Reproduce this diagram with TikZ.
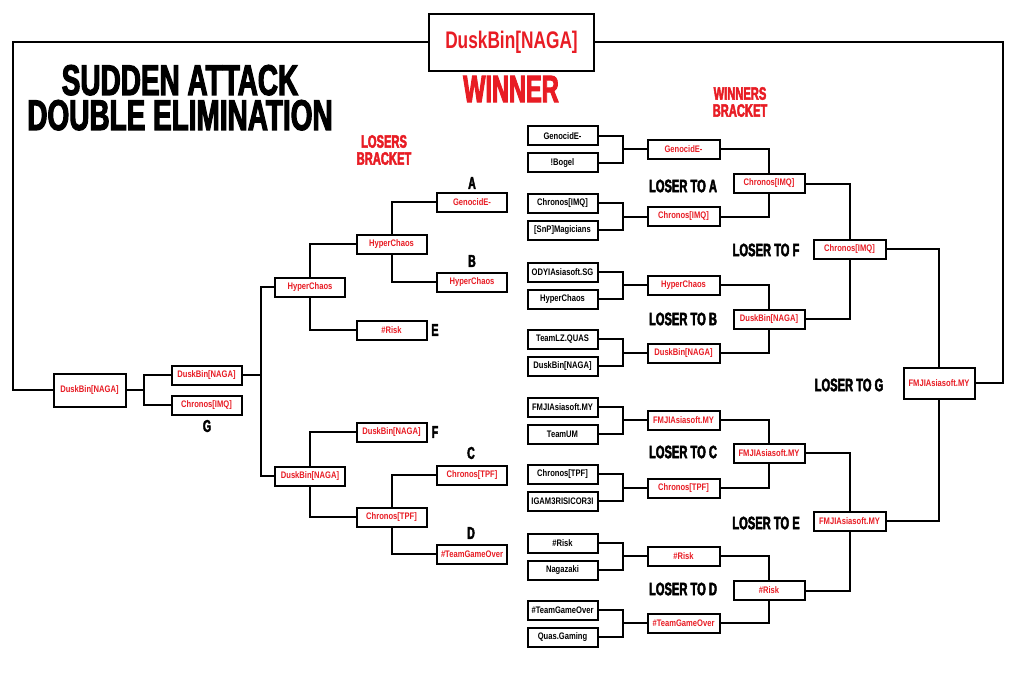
\documentclass[tikz,border=0pt]{standalone}
\usepackage{fontspec}
\newfontfamily\cnd{Liberation Sans}[FakeStretch=0.8]
\newfontfamily\cndb{Liberation Sans}[FakeStretch=0.72]
\newfontfamily\ttl{Liberation Sans}[FakeStretch=0.62,FakeBold=2.5]
\newfontfamily\ttlw{Liberation Sans}[FakeStretch=0.65,FakeBold=2.5]
\definecolor{bred}{RGB}{232,28,36}
\tikzset{
  bx/.style={draw, line width=2pt, fill=white, minimum width=70pt, minimum height=19pt, inner sep=0pt,
    font=\cnd\bfseries\fontsize{9.5pt}{11pt}\selectfont},
  seed/.style={bx, text=black},
  win/.style={bx, text=bred},
  conn/.style={line width=2pt},
  ttlf/.style={font=\ttl\bfseries\fontsize{#1}{#1}\selectfont, inner sep=0pt},
  bigt/.style={font=\ttlw\bfseries\fontsize{43pt}{43pt}\selectfont, inner sep=0pt, anchor=base, text height=31pt, text depth=0pt},
  lbl/.style={ttlf=18pt, text=black},
  letter/.style={ttlf=17pt, text=black},
}
\begin{document}
\begin{tikzpicture}[x=1pt,y=-1pt]
\useasboundingbox (0,0) rectangle (1023,682);
\fill[white] (0,0) rectangle (1023,682);

% top winner
\node[draw, line width=2pt, fill=white, minimum width=165pt, minimum height=57pt, inner sep=0pt,
  text=bred, font=\cndb\bfseries\fontsize{24pt}{26pt}\selectfont] (top) at (511.5,42.5) {DuskBin[NAGA]};
\node[ttlf=38pt, text=bred] (winner) at (511,89) {WINNER};
\node[bigt] (title1) at (180,95) {SUDDEN ATTACK};
\node[bigt] (title2) at (180,130) {DOUBLE ELIMINATION};
\node[ttlf=18pt, text=bred, align=center, font=\ttl\bfseries\fontsize{18pt}{17pt}\selectfont] (wbr) at (740,102) {WINNERS\\BRACKET};
\node[ttlf=18pt, text=bred, align=center, font=\ttl\bfseries\fontsize{18pt}{17pt}\selectfont] (lbr) at (384,150) {LOSERS\\BRACKET};

% winners round 1
\node[seed] (s1) at (562.5,136) {GenocidE-};
\node[seed] (s2) at (562.5,163) {!Bogel};
\node[seed] (s3) at (562.5,203) {Chronos[IMQ]};
\node[seed] (s4) at (562.5,230) {[SnP]Magicians};
\node[seed] (s5) at (562.5,272) {ODYIAsiasoft.SG};
\node[seed] (s6) at (562.5,299) {HyperChaos};
\node[seed] (s7) at (562.5,339) {TeamLZ.QUAS};
\node[seed] (s8) at (562.5,366) {DuskBin[NAGA]};
\node[seed] (s9) at (562.5,407) {FMJIAsiasoft.MY};
\node[seed] (s10) at (562.5,434) {TeamUM};
\node[seed] (s11) at (562.5,474) {Chronos[TPF]};
\node[seed] (s12) at (562.5,501) {IGAM3RISICOR3I};
\node[seed] (s13) at (562.5,543) {\#Risk};
\node[seed] (s14) at (562.5,570) {Nagazaki};
\node[seed] (s15) at (562.5,610) {\#TeamGameOver};
\node[seed] (s16) at (562.5,637) {Quas.Gaming};

% winners round 2
\node[win, minimum width=72pt] (w1) at (683.5,149.5) {GenocidE-};
\node[win, minimum width=72pt] (w2) at (683.5,216.5) {Chronos[IMQ]};
\node[win, minimum width=72pt] (w3) at (683.5,285) {HyperChaos};
\node[win, minimum width=72pt] (w4) at (683.5,353) {DuskBin[NAGA]};
\node[win, minimum width=72pt] (w5) at (683.5,420) {FMJIAsiasoft.MY};
\node[win, minimum width=72pt] (w6) at (683.5,488) {Chronos[TPF]};
\node[win, minimum width=72pt] (w7) at (683.5,556) {\#Risk};
\node[win, minimum width=72pt] (w8) at (683.5,623) {\#TeamGameOver};

% winners round 3
\node[win, minimum width=71pt] (x1) at (769,183.5) {Chronos[IMQ]};
\node[win, minimum width=71pt] (x2) at (769,319) {DuskBin[NAGA]};
\node[win, minimum width=71pt] (x3) at (769,453) {FMJIAsiasoft.MY};
\node[win, minimum width=71pt] (x4) at (769,590.5) {\#Risk};

% winners round 4
\node[win, minimum width=72pt] (y1) at (849.5,249) {Chronos[IMQ]};
\node[win, minimum width=72pt] (y2) at (849.5,521) {FMJIAsiasoft.MY};

% winners final
\node[win, minimum width=71pt, minimum height=31pt] (z) at (939,383) {FMJIAsiasoft.MY};

% losers bracket
\node[win] (lA) at (472,202) {GenocidE-};
\node[win] (lB) at (472,282) {HyperChaos};
\node[win] (lC) at (472,475) {Chronos[TPF]};
\node[win] (lD) at (472,554) {\#TeamGameOver};
\node[win] (l2a) at (391.5,244) {HyperChaos};
\node[win] (lE) at (391.5,330) {\#Risk};
\node[win] (lF) at (391.5,432) {DuskBin[NAGA]};
\node[win] (l2b) at (391.5,517) {Chronos[TPF]};
\node[win] (l3a) at (310,287) {HyperChaos};
\node[win] (l3b) at (310,476) {DuskBin[NAGA]};
\node[win] (l6a) at (206.5,375) {DuskBin[NAGA]};
\node[win] (l6b) at (206.5,405) {Chronos[IMQ]};
\node[win, minimum width=72pt, minimum height=33pt] (lf) at (89.5,390) {DuskBin[NAGA]};

% letters
\node[letter] (tA) at (472,183) {A};
\node[letter] (tB) at (472,261) {B};
\node[letter] (tE) at (435,330) {E};
\node[letter] (tF) at (435,432) {F};
\node[letter] (tC) at (471,453) {C};
\node[letter] (tD) at (471,533) {D};
\node[letter] (tG) at (207,426) {G};

% loser-to labels
\node[lbl] (ltA) at (683,186) {LOSER TO A};
\node[lbl] (ltB) at (683,319) {LOSER TO B};
\node[lbl] (ltC) at (683,452) {LOSER TO C};
\node[lbl] (ltD) at (683,589) {LOSER TO D};
\node[lbl] (ltF) at (766,250) {LOSER TO F};
\node[lbl] (ltE) at (766,523) {LOSER TO E};
\node[lbl] (ltG) at (849,385) {LOSER TO G};

% winners connectors round 1 -> 2
\foreach \a/\b/\w in {s1/s2/w1, s3/s4/w2, s5/s6/w3, s7/s8/w4, s9/s10/w5, s11/s12/w6, s13/s14/w7, s15/s16/w8}{
  \draw[conn] (\a.east) -| ([xshift=-24pt]\w.west) |- (\b.east);
  \draw[conn] ([xshift=-24pt]\w.west) -- (\w.west);
}
% round 2 -> 3
\draw[conn] (w1.east) -| (x1.north);
\draw[conn] (w2.east) -| (x1.south);
\draw[conn] (w3.east) -| (x2.north);
\draw[conn] (w4.east) -| (x2.south);
\draw[conn] (w5.east) -| (x3.north);
\draw[conn] (w6.east) -| (x3.south);
\draw[conn] (w7.east) -| (x4.north);
\draw[conn] (w8.east) -| (x4.south);
% round 3 -> 4
\draw[conn] (x1.east) -| (y1.north);
\draw[conn] (x2.east) -| (y1.south);
\draw[conn] (x3.east) -| (y2.north);
\draw[conn] (x4.east) -| (y2.south);
% round 4 -> final
\draw[conn] (y1.east) -| (z.north);
\draw[conn] (y2.east) -| (z.south);

% outer frame
\coordinate (rc) at (1003,383);
\coordinate (lc) at (13,390);
\draw[conn] (top.east) -| (rc) -- (z.east);
\draw[conn] (top.west) -| (lc) -- (lf.west);

% losers connectors
\draw[conn] (l2a.north) |- (lA.west);
\draw[conn] (l2a.south) |- (lB.west);
\draw[conn] (l2b.north) |- (lC.west);
\draw[conn] (l2b.south) |- (lD.west);
\draw[conn] (l3a.north) |- (l2a.west);
\draw[conn] (l3a.south) |- (lE.west);
\draw[conn] (l3b.north) |- (lF.west);
\draw[conn] (l3b.south) |- (l2b.west);
\coordinate (vj) at (261,375);
\draw[conn] (l3a.west) -| (vj) |- (l3b.west);
\draw[conn] (l6a.east) -- (vj);
\coordinate (fj) at (144,390);
\draw[conn] (l6a.west) -| (fj) |- (l6b.west);
\draw[conn] (fj) -- (lf.east);
\end{tikzpicture}
\end{document}
